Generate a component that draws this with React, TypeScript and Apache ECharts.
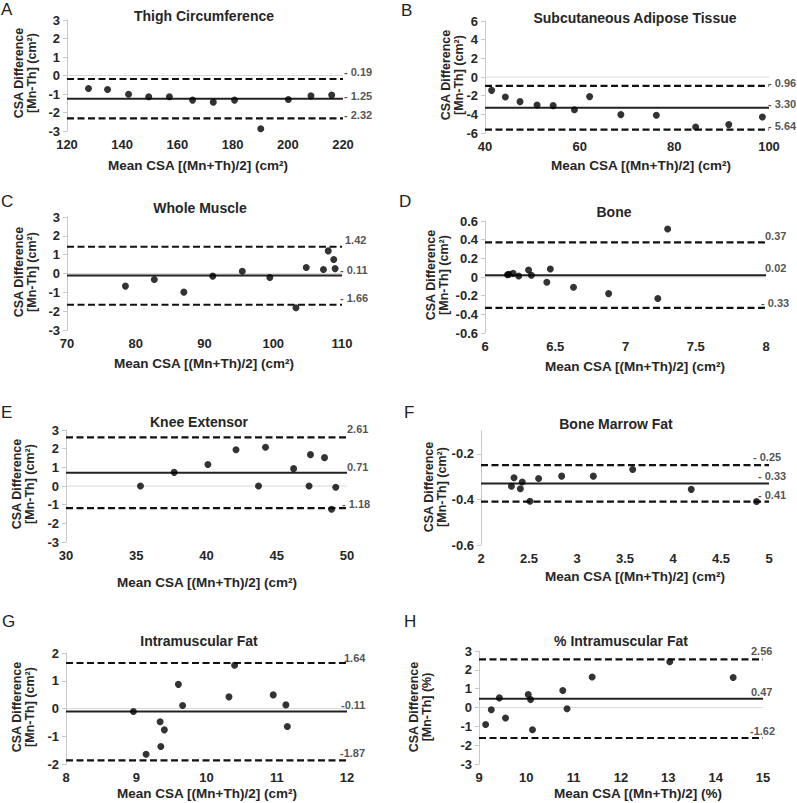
import React, { useEffect, useRef } from 'react';
import * as echarts from 'echarts';

// ---------- DATA ----------
// A – Thigh Circumference
const thighMean = [127.8, 134.7, 142.3, 149.6, 157.1, 165.5, 173.0, 180.7, 190.2, 200.2, 208.4, 215.9];
const thighDiff = [-0.70, -0.76, -1.01, -1.15, -1.15, -1.33, -1.44, -1.33, -2.88, -1.30, -1.10, -1.06];
const thighLimits = [-0.19, -1.25, -2.32];
const thighLimitLabels = ['- 0.19', '- 1.25', '- 2.32'];
const thighXAxis = [120, 220, 20];
const thighYAxis = [-3, 3, 1];

// B – Subcutaneous Adipose Tissue
const satMean = [41.4, 44.3, 47.4, 51.0, 54.4, 58.9, 62.1, 68.7, 76.2, 84.5, 91.5, 98.6];
const satDiff = [-1.43, -2.14, -2.64, -3.0, -3.07, -3.5, -2.1, -4.03, -4.1, -5.36, -5.1, -4.29];
const satLimits = [-0.96, -3.30, -5.64];
const satLimitLabels = ['- 0.96', '- 3.30', '- 5.64'];
const satXAxis = [40, 100, 20];
const satYAxis = [-6, 6, 2];

// C – Whole Muscle
const wmMean = [78.5, 82.7, 87.0, 91.2, 95.5, 99.5, 103.3, 104.8, 107.3, 108.0, 108.8, 109.0];
const wmDiff = [-0.67, -0.32, -0.99, -0.14, 0.12, -0.21, -1.82, 0.32, 0.21, 1.2, 0.74, 0.26];
const wmLimits = [1.42, -0.11, -1.66];
const wmLimitLabels = ['1.42', '- 0.11', '- 1.66'];
const wmXAxis = [70, 110, 10];
const wmYAxis = [-3, 3, 1];

// D – Bone
const boneMean = [6.16, 6.17, 6.20, 6.24, 6.31, 6.33, 6.44, 6.465, 6.63, 6.88, 7.23, 7.30];
const boneDiff = [0.025, 0.03, 0.039, 0.01, 0.075, 0.018, -0.057, 0.085, -0.11, -0.178, -0.23, 0.515];
const boneLimits = [0.37, 0.02, -0.33];
const boneLimitLabels = ['0.37', '0.02', '- 0.33'];
const boneXAxis = [6, 8, 0.5];
const boneYAxis = [-0.6, 0.6, 0.2];

// E – Knee Extensor
const keMean = [35.3, 37.7, 40.1, 42.1, 43.7, 44.2, 46.2, 47.3, 47.4, 48.4, 48.9, 49.2];
const keDiff = [0.0, 0.73, 1.15, 1.94, 0.0, 2.08, 0.93, 0.0, 1.68, 1.52, -1.25, -0.07];
const keLimits = [2.61, 0.71, -1.18];
const keLimitLabels = ['2.61', '0.71', '- 1.18'];
const keXAxis = [30, 50, 5];
const keYAxis = [-3, 3, 1];

// F – Bone Marrow Fat
const bmfMean = [2.317, 2.344, 2.41, 2.43, 2.51, 2.60, 2.84, 3.17, 3.58, 4.19, 4.87];
const bmfDiff = [-0.342, -0.305, -0.353, -0.324, -0.408, -0.308, -0.298, -0.298, -0.269, -0.356, -0.409];
const bmfLimits = [-0.25, -0.33, -0.41];
const bmfLimitLabels = ['- 0.25', '- 0.33', '- 0.41'];
const bmfXAxis = [2, 5, 0.5];
const bmfYAxis = [-0.6, -0.1, 0.2];

// G – Intramuscular Fat
const imfMean = [8.96, 9.14, 9.34, 9.35, 9.40, 9.60, 9.66, 10.32, 10.40, 10.95, 11.13, 11.15];
const imfDiff = [-0.11, -1.65, -0.48, -1.37, -0.77, 0.87, 0.11, 0.42, 1.56, 0.49, 0.13, -0.65];
const imfLimits = [1.64, -0.11, -1.87];
const imfLimitLabels = ['1.64', '-0.11', '-1.87'];
const imfXAxis = [8, 12, 1];
const imfYAxis = [-2, 2, 1];

// H – % Intramuscular Fat
const pimfMean = [9.14, 9.26, 9.43, 9.56, 10.04, 10.09, 10.13, 10.77, 10.86, 11.39, 13.03, 14.37];
const pimfDiff = [-0.90, -0.12, 0.51, -0.56, 0.69, 0.42, -1.18, 0.90, -0.07, 1.62, 2.43, 1.59];
const pimfLimits = [2.56, 0.47, -1.62];
const pimfLimitLabels = ['2.56', '0.47', '-1.62'];
const pimfXAxis = [9, 15, 1];
const pimfYAxis = [-3, 3, 1];

const panelLetters = ['A', 'B', 'C', 'D', 'E', 'F', 'G', 'H'];
const panelTitles = [
  'Thigh Circumference',
  'Subcutaneous Adipose Tissue',
  'Whole Muscle',
  'Bone',
  'Knee Extensor',
  'Bone Marrow Fat',
  'Intramuscular Fat',
  '% Intramuscular Fat',
];
const yNameCm = 'CSA Difference\n[Mn-Th] (cm²)';
const yNamePct = 'CSA Difference\n[Mn-Th] (%)';
const xNameCm = 'Mean CSA [(Mn+Th)/2] (cm²)';
const xNamePct = 'Mean CSA [(Mn+Th)/2] (%)';

// ---------- LAYOUT (positions only) ----------
const layouts = [
  { grid: [67, 20, 276, 111], letter: [1, 1], title: [204, 16], yName: [25, 73], xName: [198, 165], lblDx: [1, 1, 1], lblDy: [-7, -3, -3] },
  { grid: [485, 21, 284, 112], letter: [401, 2], title: [635, 18], yName: [452, 75], xName: [641, 165], lblDx: [-1, -1, -1], lblDy: [-3, -4, -4] },
  { grid: [67, 217, 275, 113], letter: [1, 193], title: [200, 208], yName: [25, 272], xName: [204, 363], lblDx: [3, -2, -2], lblDy: [-7, -6, -7] },
  { grid: [485, 221, 281, 112], letter: [399, 193], title: [614, 212], yName: [437, 275], xName: [635, 366], lblDx: [-1, -1, -5], lblDy: [-6, -7, -5] },
  { grid: [66, 430, 281, 112], letter: [1, 404], title: [199, 422], yName: [23, 484], xName: [207, 582], lblDx: [0, 0, -5], lblDy: [-8, -6, -4] },
  { grid: [481, 431, 288, 114], letter: [404, 404], title: [616, 424], yName: [435, 487], xName: [635, 576], lblDx: [-16, -11, -11], lblDy: [-8, -7, -7] },
  { grid: [66, 653, 281, 111], letter: [2, 613], title: [199, 641], yName: [23, 707], xName: [207, 793], lblDx: [-3, -6, -7], lblDy: [-5, -7, -7] },
  { grid: [479, 651, 284, 113], letter: [404, 613], title: [621, 641], yName: [420, 707], xName: [638, 793], lblDx: [-12, -12, -13], lblDy: [-8, -7, -7] },
];

const panels = [
  { xs: thighMean, ys: thighDiff, limits: thighLimits, labels: thighLimitLabels, xAxis: thighXAxis, yAxis: thighYAxis, yName: yNameCm, xName: xNameCm },
  { xs: satMean, ys: satDiff, limits: satLimits, labels: satLimitLabels, xAxis: satXAxis, yAxis: satYAxis, yName: yNameCm, xName: xNameCm },
  { xs: wmMean, ys: wmDiff, limits: wmLimits, labels: wmLimitLabels, xAxis: wmXAxis, yAxis: wmYAxis, yName: yNameCm, xName: xNameCm },
  { xs: boneMean, ys: boneDiff, limits: boneLimits, labels: boneLimitLabels, xAxis: boneXAxis, yAxis: boneYAxis, yName: yNameCm, xName: xNameCm },
  { xs: keMean, ys: keDiff, limits: keLimits, labels: keLimitLabels, xAxis: keXAxis, yAxis: keYAxis, yName: yNameCm, xName: xNameCm },
  { xs: bmfMean, ys: bmfDiff, limits: bmfLimits, labels: bmfLimitLabels, xAxis: bmfXAxis, yAxis: bmfYAxis, yName: yNameCm, xName: xNameCm },
  { xs: imfMean, ys: imfDiff, limits: imfLimits, labels: imfLimitLabels, xAxis: imfXAxis, yAxis: imfYAxis, yName: yNameCm, xName: xNameCm },
  { xs: pimfMean, ys: pimfDiff, limits: pimfLimits, labels: pimfLimitLabels, xAxis: pimfXAxis, yAxis: pimfYAxis, yName: yNamePct, xName: xNamePct },
];

const FONT = '"Liberation Sans", Arial, Helvetica, sans-serif';
const TEXT = '#262626';

const fmt = (v: number) => {
  const r = Math.round(v * 100) / 100;
  return r === 0 ? '0' : String(r);
};

function buildOption() {
  const grid: any[] = [];
  const xAxis: any[] = [];
  const yAxis: any[] = [];
  const series: any[] = [];
  const graphic: any[] = [];

  panels.forEach((p, i) => {
    const L = layouts[i];
    const [gl, gt, gw, gh] = L.grid;
    grid.push({ left: gl, top: gt, width: gw, height: gh, containLabel: false });
    const [xmin, xmax, xint] = p.xAxis;
    const [ymin, ymax, yint] = p.yAxis;
    xAxis.push({
      type: 'value', gridIndex: i, min: xmin, max: xmax, interval: xint,
      axisLine: { show: false, onZero: false },
      axisTick: { show: false },
      splitLine: { show: false },
      axisLabel: { fontFamily: FONT, fontSize: 13, fontWeight: 'bold', color: TEXT, margin: 7, formatter: fmt },
    });
    yAxis.push({
      type: 'value', gridIndex: i, min: ymin, max: ymax, interval: yint,
      axisLine: { show: true, onZero: false, lineStyle: { color: '#c8c8c8', width: 1 } },
      axisTick: { show: true, length: 4, lineStyle: { color: '#c8c8c8' } },
      splitLine: { show: false },
      axisLabel: { fontFamily: FONT, fontSize: 13, fontWeight: 'bold', color: TEXT, margin: 7, formatter: fmt, showMaxLabel: i === 5 ? false : true },
    });

    if (ymin < 0 && ymax > 0) {
      series.push({
        type: 'line', xAxisIndex: i, yAxisIndex: i, silent: true, symbol: 'none', z: 1,
        data: [[xmin, 0], [xmax, 0]],
        lineStyle: { color: '#d9d9d9', width: 1 },
      });
    }
    p.limits.forEach((v, k) => {
      const dashed = k !== 1;
      series.push({
        type: 'line', xAxisIndex: i, yAxisIndex: i, silent: true, symbol: 'none', z: 2,
        data: [[xmin, v], [xmax, v]],
        lineStyle: dashed ? { color: '#111', width: 2.2, type: [7, 3.5] } : { color: '#222', width: 2 },
      });
    });
    series.push({
      type: 'scatter', xAxisIndex: i, yAxisIndex: i, symbol: 'circle', symbolSize: 7, z: 3,
      itemStyle: { color: '#000' },
      data: p.xs.map((x, k) => [x, p.ys[k]]),
    });
    series.push({
      type: 'scatter', xAxisIndex: i, yAxisIndex: i, symbolSize: 0, z: 4, silent: true,
      data: p.limits.map((v, k) => ({
        value: [xmax, v],
        label: {
          show: true, position: 'right', distance: 0,
          offset: [L.lblDx[k], L.lblDy[k]],
          formatter: p.labels[k],
          fontFamily: FONT, fontSize: 11, fontWeight: 'bold', color: TEXT,
        },
      })),
    });

    graphic.push({
      type: 'text', x: L.letter[0], y: L.letter[1],
      style: { text: panelLetters[i], font: `17px ${FONT}`, fill: '#222', textAlign: 'left', textVerticalAlign: 'top' },
    });
    graphic.push({
      type: 'text', x: L.title[0], y: L.title[1],
      style: { text: panelTitles[i], font: `bold 14px ${FONT}`, fill: TEXT, textAlign: 'center', textVerticalAlign: 'middle' },
    });
    graphic.push({
      type: 'text', x: L.yName[0], y: L.yName[1], rotation: Math.PI / 2,
      style: { text: p.yName, font: `bold 12.5px ${FONT}`, lineHeight: 13, fill: TEXT, textAlign: 'center', textVerticalAlign: 'middle' },
    });
    graphic.push({
      type: 'text', x: L.xName[0], y: L.xName[1],
      style: { text: p.xName, font: `bold 13.5px ${FONT}`, fill: TEXT, textAlign: 'center', textVerticalAlign: 'middle' },
    });
  });

  return {
    animation: false,
    backgroundColor: '#ffffff',
    grid, xAxis, yAxis, series, graphic,
  };
}

export default function App() {
  const ref = useRef<HTMLDivElement>(null);
  useEffect(() => {
    if (!ref.current) return;
    const chart = echarts.init(ref.current, null, { renderer: 'svg' });
    chart.setOption(buildOption() as any);
    return () => chart.dispose();
  }, []);
  return (
    <div
      ref={ref}
      style={{ position: 'fixed', left: 0, top: 0, width: 797, height: 803, background: '#fff' }}
    />
  );
}
